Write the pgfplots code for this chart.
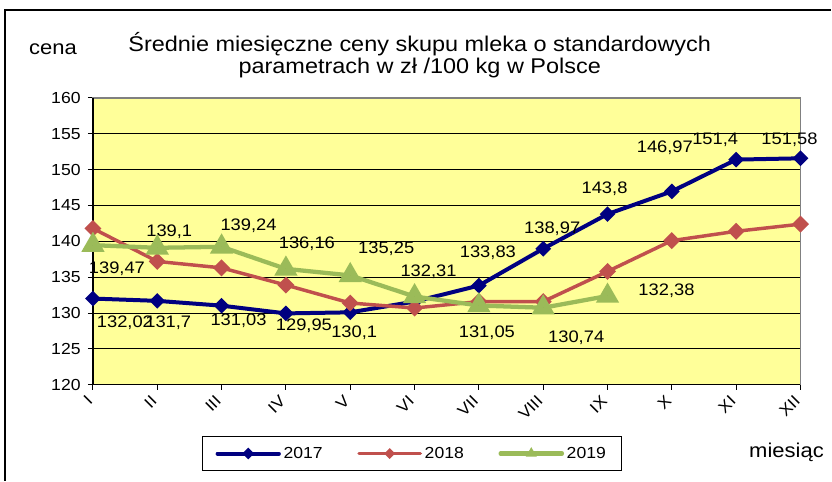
\documentclass[border=0pt]{standalone}
\usepackage{pgfplots}
\pgfplotsset{compat=1.18}
\usepackage{pgfplotstable}
\usepackage{fontspec}
\setmainfont{Liberation Sans}[FakeStretch=1.1]
\definecolor{c17}{HTML}{000080}
\definecolor{c18}{HTML}{C0504D}
\definecolor{c19}{HTML}{9BBB59}
\definecolor{bgy}{HTML}{FFFF99}
\newcommand{\tf}{\fontsize{12}{14}\selectfont}

\pgfplotstableread{
x y
1 132.02
2 131.70
3 131.03
4 129.95
5 130.10
6 131.60
7 133.83
8 138.97
9 143.80
10 146.97
11 151.40
12 151.58
}\tblA
\pgfplotstableread{
x y
1 141.8
2 137.2
3 136.3
4 133.9
5 131.4
6 130.7
7 131.6
8 131.6
9 135.8
10 140.1
11 141.4
12 142.4
}\tblB
\pgfplotstableread{
x y
1 139.47
2 139.10
3 139.24
4 136.16
5 135.25
6 132.31
7 131.05
8 130.74
9 132.38
}\tblC
% labels: dx, dy in pixels (dy positive = down)
\pgfplotstableread{
x y lab dx dy
1 132.02 132,02 32 24
2 131.70 131,7 11 22
3 131.03 131,03 17 15
4 129.95 129,95 18 12
5 130.10 130,1 4 20
7 133.83 133,83 9 -33
8 138.97 138,97 9 -20
9 143.80 143,8 -3 -25
10 146.97 146,97 -7 -44
11 151.40 151,4 -21 -20
12 151.58 151,58 -11 -19
}\lblA
\pgfplotstableread{
x y lab dx dy
1 139.47 139,47 24 24
2 139.10 139,1 12 -16
3 139.24 139,24 27 -21
4 136.16 136,16 21 -25
5 135.25 135,25 36 -27
6 132.31 132,31 14 -25
7 131.05 131,05 8 27
8 130.74 130,74 33 30
9 132.38 132,38 59 -5
}\lblC

\begin{document}
\begin{tikzpicture}
\begin{scope}[shift={(-69.75pt,288.75pt)},x=0.75pt,y=-0.75pt]
\useasboundingbox (0,0) rectangle (832,481);
\end{scope}
\begin{axis}[
  scale only axis, width=531pt, height=215.25pt,
  xmin=1, xmax=12, ymin=120, ymax=160,
  xtick={1,...,12},
  xticklabels={\tf I,\tf II,\tf III,\tf IV,\tf V,\tf VI,\tf VII,\tf VIII,\tf IX,\tf X,\tf XI,\tf XII},
  ytick={120,125,...,160},
  yticklabel={\tf\pgfmathprintnumber{\tick}},
  ymajorgrids, grid style={black, line width=0.7pt},
  axis background/.style={fill=bgy},
  axis line style={draw=gray, line width=1pt},
  xtick pos=left, ytick pos=left, tick align=outside,
  major tick length=3.75pt,
  tick style={black, line width=0.7pt},
  yticklabel style={xshift=-2pt},
  xticklabel style={rotate=45, anchor=east},
  xticklabel shift=4pt,
  /pgf/number format/assume math mode=true,
  clip=false,
  legend columns=3,
  legend style={at={(0.451,-0.178)}, anchor=north, draw=black, line width=0.75pt,
    font=\fontsize{12}{14}\selectfont, inner xsep=10pt, inner ysep=6pt,
    /tikz/every even column/.append style={column sep=24pt}},
  legend cell align=left,
  legend image code/.code={\draw[#1, mark repeat=2, mark phase=2, mark size=1.6pt, line cap=round] plot coordinates {(0pt,0pt) (23pt,0pt) (46pt,0pt)};},
]
\addplot[color=c17, line width=3pt, mark=square*, mark size=2.65pt, mark options={rotate=45, solid}] table[x=x,y=y]{\tblA};
\addlegendentry{2017}
\addplot[color=c18, line width=2.6pt, mark=square*, mark size=3.2pt, mark options={rotate=45, solid}] table[x=x,y=y]{\tblB};
\addlegendentry{2018}
\addplot[color=c19, line width=3.2pt, mark=triangle*, mark size=6.9pt, mark options={solid}] table[x=x,y=y]{\tblC};
\addlegendentry{2019}
\draw[black, line width=0.9pt] (rel axis cs:0,1) -- (rel axis cs:0,0) -- (rel axis cs:1,0);
\addplot[only marks, mark=*, mark size=0pt, mark options={draw=none, fill=none}, forget plot,
  nodes near coords, point meta=explicit symbolic,
  visualization depends on={\thisrow{dx}\as\dx},
  visualization depends on={\thisrow{dy}\as\dy},
  nodes near coords style={anchor=center, text=black, inner sep=0pt, font=\fontsize{12.5}{14}\selectfont, xshift={0.75*\dx}, yshift={-0.75*(\dy)}}]
  table[x=x,y=y,meta=lab]{\lblA};
\addplot[only marks, mark=*, mark size=0pt, mark options={draw=none, fill=none}, forget plot,
  nodes near coords, point meta=explicit symbolic,
  visualization depends on={\thisrow{dx}\as\dx},
  visualization depends on={\thisrow{dy}\as\dy},
  nodes near coords style={anchor=center, text=black, inner sep=0pt, font=\fontsize{12.5}{14}\selectfont, xshift={0.75*\dx}, yshift={-0.75*(\dy)}}]
  table[x=x,y=y,meta=lab]{\lblC};
\end{axis}
\begin{scope}[shift={(-69.75pt,288.75pt)},x=0.75pt,y=-0.75pt]
\draw[line width=0.8pt] (5,481) -- (5,10) -- (832,10);
\node[font=\fontsize{16}{19}\selectfont, anchor=base] at (420,52) {Średnie miesięczne ceny skupu mleka o standardowych};
\node[font=\fontsize{16}{19}\selectfont, anchor=base] at (420,74) {parametrach w zł /100 kg w Polsce};
\node[font=\fontsize{15}{18}\selectfont, anchor=base west, inner sep=0pt] at (29,55) {cena};
\node[font=\fontsize{15}{18}\selectfont, anchor=base, inner sep=0pt] at (787,458) {miesiąc};
\end{scope}
\end{tikzpicture}
\end{document}
